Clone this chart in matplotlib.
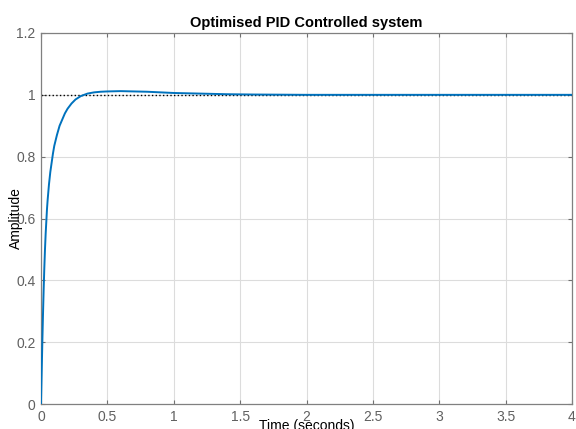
import numpy as np
import matplotlib.pyplot as plt

plt.rcParams['font.family'] = ['Liberation Sans', 'DejaVu Sans']

# step response
t = [0, 0.005, 0.01, 0.015, 0.02, 0.025, 0.03, 0.035, 0.04, 0.045, 0.05, 0.06, 0.07,
     0.08, 0.09, 0.1, 0.12, 0.14, 0.16, 0.18, 0.2, 0.23, 0.26, 0.3, 0.35, 0.4, 0.45,
     0.5, 0.6, 0.7, 0.8, 0.9, 1.0, 1.2, 1.4, 1.6, 1.8, 2.0, 2.5, 3.0, 3.5, 4.0]
y = [0, 0.1, 0.2, 0.29, 0.37, 0.44, 0.5, 0.55, 0.59, 0.63, 0.66, 0.71, 0.75,
     0.78, 0.81, 0.835, 0.87, 0.9, 0.92, 0.94, 0.955, 0.972, 0.985, 0.996, 1.004, 1.008, 1.01,
     1.011, 1.012, 1.011, 1.01, 1.008, 1.006, 1.004, 1.002, 1.001, 1.0005, 1.0, 1.0, 1.0, 1.0, 1.0]

xticks = [0, 0.5, 1, 1.5, 2, 2.5, 3, 3.5, 4]
xtick_labels = ['0', '0.5', '1', '1.5', '2', '2.5', '3', '3.5', '4']
yticks = [0, 0.2, 0.4, 0.6, 0.8, 1, 1.2]
ytick_labels = ['0', '0.2', '0.4', '0.6', '0.8', '1', '1.2']

fig = plt.figure(figsize=(5.76, 4.29), dpi=100)
ax = fig.add_axes([41/576, 25/429, 531/576, 371/429])

ax.axhline(1.0, color='black', linestyle=':', linewidth=1.0, zorder=2)
ax.plot(t, y, color='#0072BD', linewidth=1.4, zorder=3)

ax.set_xlim(0, 4)
ax.set_ylim(0, 1.2)
ax.set_xticks(xticks)
ax.set_xticklabels(xtick_labels)
ax.set_yticks(yticks)
ax.set_yticklabels(ytick_labels)
ax.grid(True, color='#dcdcdc', linewidth=0.8)
ax.set_axisbelow(True)

ax.tick_params(direction='in', length=3, width=0.8, colors='#707070',
               labelcolor='#606060', labelsize=10, top=True, right=True, pad=4)
for s in ax.spines.values():
    s.set_color('#808080')
    s.set_linewidth(0.9)

ax.set_title('Optimised PID Controlled system', fontsize=10.5, fontweight='bold', pad=4)
ax.set_xlabel('Time (seconds)', fontsize=10, labelpad=-3)
ax.set_ylabel('Amplitude', fontsize=10, labelpad=-5)

fig.savefig('out.png', dpi=100)
